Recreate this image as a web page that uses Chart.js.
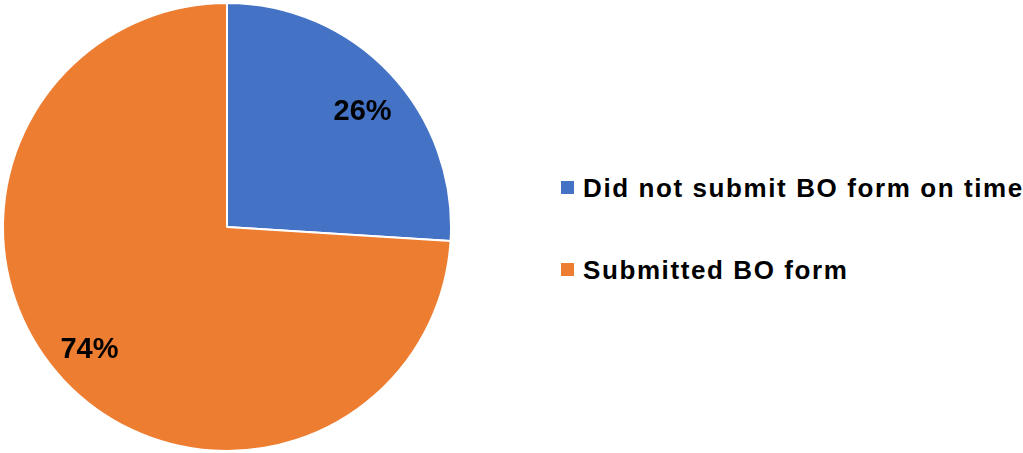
<!DOCTYPE html>
<html>
<head>
<meta charset="utf-8">
<script src="https://cdn.jsdelivr.net/npm/chart.js@4/dist/chart.umd.min.js"></script>
<style>
  html, body { margin: 0; padding: 0; background: #fff; }
  #wrap { position: relative; width: 1023px; height: 453px; overflow: hidden; }
  #pieBox { position: absolute; left: 0; top: 0; width: 454px; height: 453px; }
  .legend-item { position: absolute; left: 561px; font-family: "Liberation Sans", Arial, sans-serif; font-weight: bold; font-size: 26px; color: #000; white-space: nowrap; line-height: 26px; letter-spacing: 1.6px; }
  .legend-item .box { position: absolute; left: 0; width: 13px; height: 13px; }
  .legend-item .txt { position: absolute; left: 22px; top: 0; }
</style>
</head>
<body>
<div id="wrap">
  <div id="pieBox"><canvas id="pieChart"></canvas></div>
  <div id="legend"></div>
</div>
<script>
const categories = ['Did not submit BO form on time', 'Submitted BO form'];
const shares = [26, 74];
const sliceColors = ['#4472C4', '#ED7D31'];

window.onload = function () {
    const ctx = document.getElementById('pieChart').getContext('2d');

    // percentage labels inside the slices
    const sliceLabels = {
        id: 'sliceLabels',
        afterDatasetsDraw(chart) {
            const c = chart.ctx;
            const meta = chart.getDatasetMeta(0);
            c.save();
            c.font = 'bold 29px "Liberation Sans", Arial, sans-serif';
            c.fillStyle = '#000';
            c.textAlign = 'center';
            c.textBaseline = 'middle';
            meta.data.forEach((arc, i) => {
                const p = arc.getProps(['x', 'y', 'startAngle', 'endAngle', 'outerRadius']);
                const mid = (p.startAngle + p.endAngle) / 2 + 0.035;
                const r = p.outerRadius * 0.81;
                c.fillText(shares[i] + '%', p.x + Math.cos(mid) * r - 1, p.y + Math.sin(mid) * r + 4);
            });
            c.restore();
        }
    };

    new Chart(ctx, {
        type: 'pie',
        data: {
            labels: categories,
            datasets: [{
                data: shares,
                backgroundColor: sliceColors,
                borderColor: '#ffffff',
                borderWidth: 2
            }]
        },
        options: {
            responsive: true,
            maintainAspectRatio: false,
            animation: false,
            layout: { padding: { left: 2, top: 2, right: 2, bottom: 1 } },
            plugins: { legend: { display: false }, tooltip: { enabled: false } }
        },
        plugins: [sliceLabels]
    });

    // legend on the right
    const legend = document.getElementById('legend');
    const tops = [175, 257];
    categories.forEach((name, i) => {
        const item = document.createElement('div');
        item.className = 'legend-item';
        item.style.top = tops[i] + 'px';
        item.innerHTML = '<span class="box" style="top:6px;background:' + sliceColors[i] + '"></span><span class="txt"></span>';
        item.querySelector('.txt').textContent = name;
        legend.appendChild(item);
    });
};
</script>
</body>
</html>
